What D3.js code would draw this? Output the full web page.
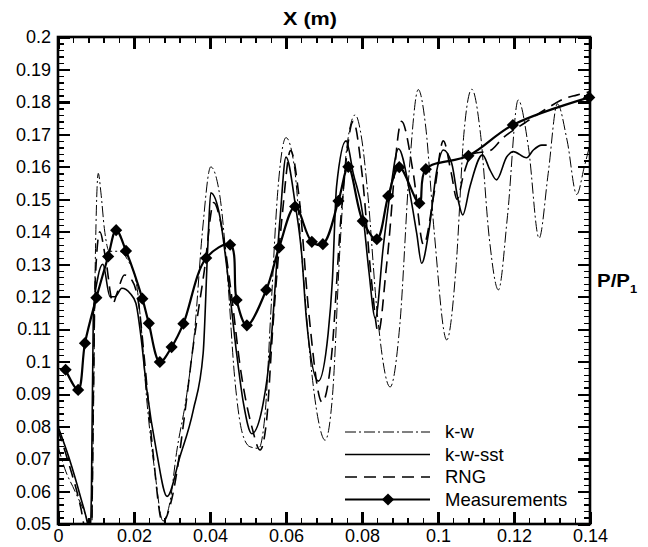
<!DOCTYPE html>
<html>
<head>
<meta charset="utf-8">
<script src="https://cdn.jsdelivr.net/npm/d3@7"></script>
<style>
  html, body { margin: 0; padding: 0; background: #fff; }
  svg { display: block; }
  text { font-family: "Liberation Sans", Arial, Helvetica, sans-serif; fill: #000; }
</style>
</head>
<body>
<script>
// ---- Axis ticks ----
const xTickValues = [0, 0.02, 0.04, 0.06, 0.08, 0.1, 0.12, 0.14];
const xTickLabels = ["0", "0.02", "0.04", "0.06", "0.08", "0.1", "0.12", "0.14"];
const yTickValues = [0.05, 0.06, 0.07, 0.08, 0.09, 0.1, 0.11, 0.12, 0.13, 0.14, 0.15, 0.16, 0.17, 0.18, 0.19, 0.2];
const yTickLabels = ["0.05", "0.06", "0.07", "0.08", "0.09", "0.1", "0.11", "0.12", "0.13", "0.14", "0.15", "0.16", "0.17", "0.18", "0.19", "0.2"];

// ---- k-w model ----
const kwX = [0, 0.0018, 0.0045, 0.0082, 0.0088, 0.0093, 0.0098, 0.0106, 0.0113, 0.0122, 0.0135, 0.0160, 0.0185, 0.0205, 0.0218, 0.0233, 0.0255, 0.0276, 0.0295, 0.0312, 0.0339, 0.0360, 0.0380, 0.0402, 0.0426, 0.0445, 0.0465, 0.0485, 0.0505, 0.0528, 0.0545, 0.0560, 0.0578, 0.0600, 0.0622, 0.0642, 0.0663, 0.0685, 0.0703, 0.0722, 0.0742, 0.0760, 0.0782, 0.0800, 0.0815, 0.0840, 0.0874, 0.0900, 0.0925, 0.0948, 0.0968, 0.0990, 0.1023, 0.1048, 0.1068, 0.1089, 0.1112, 0.1135, 0.1159, 0.1183, 0.1211, 0.1238, 0.1266, 0.1290, 0.1314, 0.1340, 0.1365, 0.1385, 0.1400];
const kwY = [0.074, 0.067, 0.060, 0.049, 0.046, 0.080, 0.130, 0.158, 0.152, 0.141, 0.134, 0.134, 0.131, 0.125, 0.112, 0.089, 0.066, 0.051, 0.057, 0.072, 0.090, 0.110, 0.140, 0.160, 0.151, 0.128, 0.095, 0.078, 0.0738, 0.0733, 0.084, 0.115, 0.152, 0.169, 0.160, 0.132, 0.102, 0.082, 0.0758, 0.089, 0.135, 0.166, 0.176, 0.168, 0.152, 0.115, 0.0922, 0.112, 0.160, 0.1838, 0.172, 0.140, 0.1067, 0.130, 0.170, 0.1839, 0.170, 0.138, 0.1221, 0.145, 0.1806, 0.166, 0.1380, 0.158, 0.1794, 0.168, 0.1515, 0.160, 0.167];

// ---- k-w-sst model ----
const sstX = [0, 0.003, 0.006, 0.0078, 0.0084, 0.0088, 0.0093, 0.0105, 0.0118, 0.0137, 0.0150, 0.0168, 0.0190, 0.0205, 0.0218, 0.0233, 0.0260, 0.0287, 0.0321, 0.0356, 0.0382, 0.0394, 0.0402, 0.0426, 0.0444, 0.0470, 0.0488, 0.0510, 0.0540, 0.0558, 0.0584, 0.0600, 0.0624, 0.0641, 0.0654, 0.0685, 0.0711, 0.0722, 0.0733, 0.0758, 0.0777, 0.0803, 0.0818, 0.0835, 0.0856, 0.0874, 0.0896, 0.0926, 0.0944, 0.0957, 0.0975, 0.0997, 0.1014, 0.1036, 0.1053, 0.1065, 0.1084, 0.1117, 0.1137, 0.1154, 0.1181, 0.1198, 0.1233, 0.1251, 0.1273, 0.1286];
const sstY = [0.080, 0.070, 0.058, 0.050, 0.046, 0.060, 0.115, 0.126, 0.130, 0.120, 0.120, 0.1226, 0.121, 0.118, 0.108, 0.092, 0.0718, 0.0585, 0.0708, 0.0851, 0.1026, 0.135, 0.152, 0.1447, 0.1293, 0.1026, 0.0872, 0.0778, 0.0872, 0.1026, 0.1436, 0.163, 0.1488, 0.1334, 0.1128, 0.094, 0.1088, 0.125, 0.1539, 0.168, 0.158, 0.1447, 0.128, 0.1134, 0.1354, 0.1519, 0.1656, 0.1519, 0.1395, 0.1303, 0.1395, 0.159, 0.1652, 0.1611, 0.1498, 0.1452, 0.1539, 0.1637, 0.159, 0.156, 0.1631, 0.1647, 0.1628, 0.1652, 0.1667, 0.1667];

// ---- RNG model ----
const rngX = [0, 0.003, 0.006, 0.0072, 0.0088, 0.0093, 0.0098, 0.0110, 0.0125, 0.0145, 0.0155, 0.0175, 0.0195, 0.0212, 0.0228, 0.0250, 0.0275, 0.0300, 0.0339, 0.0352, 0.0385, 0.0410, 0.0428, 0.0455, 0.0480, 0.0510, 0.0532, 0.0549, 0.0565, 0.0590, 0.0612, 0.0635, 0.0660, 0.0695, 0.0720, 0.0745, 0.0777, 0.0800, 0.0825, 0.0843, 0.0865, 0.0904, 0.0935, 0.0962, 0.0990, 0.1014, 0.1035, 0.1050, 0.1068, 0.1090, 0.1137, 0.1170, 0.1228, 0.1280, 0.1334, 0.1365, 0.1400];
const rngY = [0.079, 0.068, 0.055, 0.048, 0.046, 0.090, 0.125, 0.140, 0.132, 0.118, 0.121, 0.1267, 0.125, 0.118, 0.100, 0.072, 0.0505, 0.058, 0.089, 0.1015, 0.128, 0.149, 0.143, 0.122, 0.098, 0.080, 0.0728, 0.082, 0.110, 0.145, 0.165, 0.150, 0.115, 0.0875, 0.102, 0.145, 0.174, 0.158, 0.125, 0.109, 0.130, 0.174, 0.158, 0.136, 0.152, 0.168, 0.158, 0.150, 0.158, 0.164, 0.165, 0.1688, 0.1735, 0.1775, 0.1811, 0.1821, 0.1832];

// ---- Measurements ----
const measX = [0.0020, 0.0053, 0.0071, 0.0101, 0.0132, 0.0153, 0.0179, 0.0222, 0.0239, 0.0268, 0.0299, 0.0330, 0.0390, 0.0453, 0.0470, 0.0497, 0.0548, 0.0582, 0.0624, 0.0668, 0.0697, 0.0738, 0.0764, 0.0802, 0.0839, 0.0869, 0.0898, 0.0951, 0.0968, 0.1080, 0.1197, 0.1398];
const measY = [0.0975, 0.0913, 0.1057, 0.1197, 0.1324, 0.1405, 0.1341, 0.1194, 0.1118, 0.0999, 0.1045, 0.1117, 0.1319, 0.1360, 0.1190, 0.1112, 0.1221, 0.1352, 0.1478, 0.1369, 0.1362, 0.1495, 0.1600, 0.1433, 0.1377, 0.1510, 0.1599, 0.1488, 0.1593, 0.1634, 0.1729, 0.1814];

const seriesNames = ["k-w", "k-w-sst", "RNG", "Measurements"];

// ---- Layout ----
const W = 648, H = 547;
const plot = { left: 58, right: 590, top: 37, bottom: 524 };

const x = d3.scaleLinear().domain([0, 0.14]).range([plot.left, plot.right]);
const y = d3.scaleLinear().domain([0.05, 0.2]).range([plot.bottom, plot.top]);

const svg = d3.select("body").append("svg")
  .attr("width", W).attr("height", H)
  .attr("viewBox", `0 0 ${W} ${H}`);

svg.append("defs").append("clipPath").attr("id", "plotClip")
  .append("rect")
  .attr("x", plot.left).attr("y", plot.top)
  .attr("width", plot.right - plot.left).attr("height", plot.bottom - plot.top);

// Line styles per series
const styles = {
  "k-w":          { width: 1.0, dash: "11,3,2,3" },
  "k-w-sst":      { width: 1.6, dash: null },
  "RNG":          { width: 1.6, dash: "12,7" },
  "Measurements": { width: 2.2, dash: null }
};

const zip = (xs, ys) => xs.map((v, i) => [v, ys[i]]);

const cfdLine = d3.line()
  .x(d => x(d[0])).y(d => y(d[1]))
  .curve(d3.curveMonotoneX);

const measLine = d3.line()
  .x(d => x(d[0])).y(d => y(d[1]))
  .curve(d3.curveCatmullRom.alpha(0.5));

const curves = svg.append("g").attr("clip-path", "url(#plotClip)");

function drawLine(data, name, gen) {
  const st = styles[name];
  curves.append("path")
    .datum(data)
    .attr("fill", "none")
    .attr("stroke", "#000")
    .attr("stroke-width", st.width)
    .attr("stroke-linejoin", "round")
    .attr("stroke-dasharray", st.dash)
    .attr("d", gen);
}

drawLine(zip(kwX, kwY), "k-w", cfdLine);
drawLine(zip(rngX, rngY), "RNG", cfdLine);
drawLine(zip(sstX, sstY), "k-w-sst", cfdLine);
drawLine(zip(measX, measY), "Measurements", measLine);

// Diamond markers: a square turned 45 degrees
const diamond = d3.symbol().type(d3.symbolSquare).size(74);
svg.append("g").selectAll("path.mark")
  .data(zip(measX, measY))
  .join("path")
  .attr("class", "mark")
  .attr("d", diamond)
  .attr("transform", d => `translate(${x(d[0])},${y(d[1])}) rotate(45)`)
  .attr("fill", "#000");

// ---- Axes: major and minor ticks on all four sides, pointing inward ----
const xMinor = d3.range(0, 36).filter(i => i % 5 !== 0).map(i => i * 0.004);
const yMinor = d3.range(25, 101).filter(i => i % 5 !== 0).map(i => i * 0.002);

function styleAxis(g, w) {
  g.select(".domain").remove();
  g.selectAll(".tick line").attr("stroke", "#000").attr("stroke-width", w);
}

const axes = svg.append("g").attr("shape-rendering", "crispEdges");

axes.append("g").attr("transform", `translate(0,${plot.bottom})`)
  .call(d3.axisBottom(x).tickValues(xTickValues)
    .tickFormat((d, i) => xTickLabels[i]).tickSize(-12).tickPadding(5))
  .call(g => styleAxis(g, 2.2));
axes.append("g").attr("transform", `translate(0,${plot.bottom})`)
  .call(d3.axisBottom(x).tickValues(xMinor).tickFormat("").tickSize(-6))
  .call(g => styleAxis(g, 1.3));
axes.append("g").attr("transform", `translate(0,${plot.top})`)
  .call(d3.axisTop(x).tickValues(xTickValues).tickFormat("").tickSize(-12))
  .call(g => styleAxis(g, 2.2));
axes.append("g").attr("transform", `translate(0,${plot.top})`)
  .call(d3.axisTop(x).tickValues(xMinor).tickFormat("").tickSize(-6))
  .call(g => styleAxis(g, 1.3));

axes.append("g").attr("transform", `translate(${plot.left},0)`)
  .call(d3.axisLeft(y).tickValues(yTickValues)
    .tickFormat((d, i) => yTickLabels[i]).tickSize(-12).tickPadding(7))
  .call(g => styleAxis(g, 2.2));
axes.append("g").attr("transform", `translate(${plot.left},0)`)
  .call(d3.axisLeft(y).tickValues(yMinor).tickFormat("").tickSize(-6))
  .call(g => styleAxis(g, 1.3));
axes.append("g").attr("transform", `translate(${plot.right},0)`)
  .call(d3.axisRight(y).tickValues(yTickValues).tickFormat("").tickSize(-12))
  .call(g => styleAxis(g, 2.2));
axes.append("g").attr("transform", `translate(${plot.right},0)`)
  .call(d3.axisRight(y).tickValues(yMinor).tickFormat("").tickSize(-6))
  .call(g => styleAxis(g, 1.3));

svg.selectAll(".tick text")
  .attr("font-family", "'Liberation Sans', Arial, Helvetica, sans-serif")
  .attr("font-size", 18)
  .attr("fill", "#000");

// Frame
svg.append("rect")
  .attr("x", plot.left).attr("y", plot.top)
  .attr("width", plot.right - plot.left).attr("height", plot.bottom - plot.top)
  .attr("fill", "none").attr("stroke", "#000").attr("stroke-width", 2.6);

// ---- Axis titles ----
svg.append("text")
  .attr("transform", "translate(310,25) scale(1.2,1)")
  .attr("text-anchor", "middle")
  .attr("font-weight", "bold")
  .attr("font-size", 18)
  .text("X (m)");

const pTitle = svg.append("text")
  .attr("transform", "translate(597,287) scale(1.17,1)")
  .attr("font-weight", "bold")
  .attr("font-size", 17.5);
pTitle.append("tspan").text("P/P");
pTitle.append("tspan").attr("font-size", 11).attr("dy", 6).text("1");

// ---- Legend ----
const legend = svg.append("g").attr("transform", "translate(345,432)");
const rowGap = 22.5;
seriesNames.forEach((name, i) => {
  const st = styles[name];
  const row = legend.append("g").attr("transform", `translate(0,${i * rowGap})`);
  row.append("line")
    .attr("x1", 0).attr("x2", 85).attr("y1", 0).attr("y2", 0)
    .attr("stroke", "#000")
    .attr("stroke-width", st.width)
    .attr("stroke-dasharray", st.dash);
  if (name === "Measurements") {
    row.append("path").attr("d", diamond)
      .attr("transform", "translate(43,0) rotate(45)")
      .attr("fill", "#000");
  }
  row.append("text")
    .attr("x", 100).attr("y", 6)
    .attr("font-size", 18.5)
    .text(name);
});
</script>
</body>
</html>
